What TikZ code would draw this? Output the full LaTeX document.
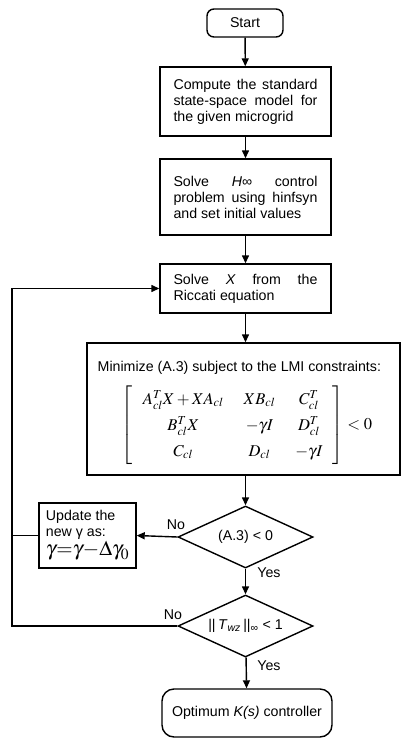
\documentclass[tikz,border=0pt]{standalone}
\usepackage{mathptmx}
\usepackage{fontspec}
\setmainfont{Liberation Sans}
\usetikzlibrary{arrows.meta,shapes.geometric}
\hyphenpenalty=10000
\exhyphenpenalty=10000
\begin{document}
\begin{tikzpicture}[x=1pt,y=-1pt,
  font=\fontsize{14.2}{16}\selectfont,
  line width=1.4pt,
  arr/.style={-{Triangle[length=8pt,width=7pt]}},
  box/.style={draw, rectangle, minimum width=171pt, inner sep=0pt, text width=144pt, align=justify},
  term/.style={draw, rectangle, rounded corners=7pt, inner sep=0pt},
  dia/.style={draw, diamond, aspect=2.2, minimum width=135pt, minimum height=62pt, inner sep=0pt},
  lbl/.style={inner sep=0pt}]
\useasboundingbox (0,0) rectangle (401,739);

\node[term, minimum width=76pt, minimum height=28pt] (start) at (245,23) {Start};
\node[box, minimum height=69pt] (b1) at (245.5,101.5) {Compute the standard state-space model for the given microgrid};
\node[box, minimum height=76pt] (b2) at (245.5,197) {Solve \textit{H}∞ control problem using hinfsyn and set initial values};
\node[box, minimum height=49pt] (b3) at (245.5,288.5) {Solve \textit{X} from the Riccati equation};
\node[draw, rectangle, minimum width=313pt, minimum height=132pt, inner sep=0pt] (big) at (243.5,409) {};
\node[lbl, anchor=west] (mintxt) at (97,368) {Minimize (A.3) subject to the LMI constraints:};
\node[lbl] (mat) at (247,425) {\fontsize{16.5}{26}\selectfont\arraycolsep=10pt
  $\left[\begin{array}{ccc}
   A_{cl}^{T}X+XA_{cl} & XB_{cl} & C_{cl}^{T}\\
   B_{cl}^{T}X & -\gamma I & D_{cl}^{T}\\
   C_{cl} & D_{cl} & -\gamma I
  \end{array}\right]<0$};
\node[dia] (d1) at (245.5,537) {(A.3) < 0};
\node[draw, rectangle, minimum width=97pt, minimum height=65pt, inner sep=0pt, align=left] (upd) at (87.5,535.5)
  {Update the\\new γ as:\\[1pt]{\fontsize{21}{21}\selectfont$\gamma{=}\gamma{-}\Delta\gamma_{0}$}};
\node[dia] (d2) at (245.5,626) {||\,\textit{T}\textsubscript{\textit{wz}}\,||\textsubscript{∞} < 1};
\node[term, rounded corners=12pt, minimum width=170pt, minimum height=48pt] (end) at (247,713) {Optimum \textit{K(s)} controller};

\coordinate (lb) at (12,626);

\draw[arr] (start) -- (b1);
\draw[arr] (b1) -- (b2);
\draw[arr] (b2) -- (b3);
\draw[arr] (b3.south) -- (b3.south |- big.north);
\draw[arr] (d1.north |- big.south) -- (d1.north);
\draw[arr] (d1) -- (d2);
\draw[arr] (d2) -- (end);
\draw[arr] (d1.west) -- (upd.east);
\draw (upd.west) -- (upd.west -| lb);
\draw[arr] (d2.west) -- (lb) |- (b3.west);

\node[lbl] (no1) at (176,525) {No};
\node[lbl] (no2) at (173,615) {No};
\node[lbl] (yes1) at (269,573) {Yes};
\node[lbl] (yes2) at (269,666) {Yes};
\end{tikzpicture}
\end{document}
